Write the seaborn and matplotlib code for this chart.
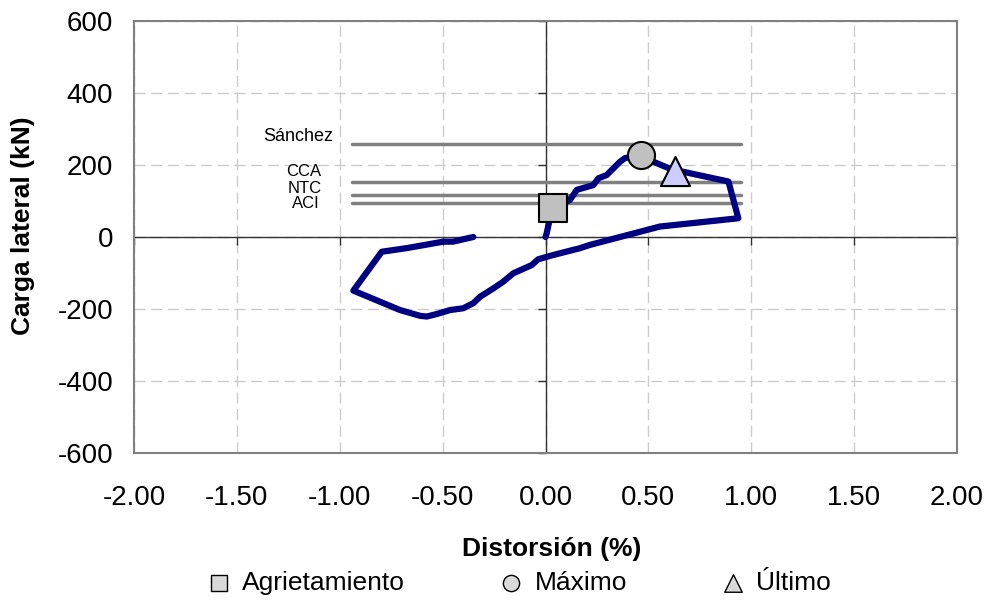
import numpy as np
import pandas as pd
import matplotlib
matplotlib.use('Agg')
import matplotlib.pyplot as plt
import seaborn as sns
from matplotlib.markers import TICKDOWN, TICKLEFT

# hysteresis curve
distorsion = [0.0, 0.006, 0.014, 0.036, 0.119, 0.152, 0.232, 0.257, 0.297, 0.362, 0.386,
              0.463, 0.524, 0.628, 0.67, 0.889, 0.937, 0.556, 0.216, 0.168, 0.038, -0.036,
              -0.067, -0.157, -0.205, -0.254, -0.318, -0.351, -0.4, -0.464, -0.529, -0.577,
              -0.61, -0.707, -0.934, -0.796, -0.675, -0.497, -0.45, -0.351]
carga = [0, 11, 33, 80, 103, 131, 144, 163, 172, 209, 219,
         227, 209, 184, 181, 154, 52, 29, -22, -31, -50, -62,
         -78, -101, -124, -143, -166, -184, -198, -203, -214, -221,
         -219, -203, -149, -41, -31, -13, -13, 0]

# characteristic points
puntos = ['Agrietamiento', 'Máximo', 'Último']
punto_x = [0.036, 0.463, 0.628]
punto_y = [80, 227, 184]

# code predictions (horizontal lines)
modelos = ['Sánchez', 'CCA', 'NTC', 'ACI']
modelo_v = [258, 152, 117, 95]
linea_x = [-0.94, 0.95]

xticks = [-2.0, -1.5, -1.0, -0.5, 0.0, 0.5, 1.0, 1.5, 2.0]
yticks = [-600, -400, -200, 0, 200, 400, 600]

sns.set_theme(style='white')
plt.rcParams['font.family'] = ['Liberation Sans', 'DejaVu Sans']
plt.rcParams['text.color'] = 'black'
plt.rcParams['axes.labelcolor'] = 'black'

fig = plt.figure(figsize=(9.89, 6.03), dpi=100)
ax = fig.add_axes([0.1355, 0.2488, 0.8322, 0.7164])

ax.set_xlim(-2, 2)
ax.set_ylim(-600, 600)
ax.set_xticks(xticks)
ax.set_xticklabels([f'{v:.2f}' for v in xticks])
ax.set_yticks(yticks)
ax.set_yticklabels([str(v) for v in yticks])
ax.tick_params(axis='x', length=0, pad=23, labelsize=20, colors='black')
ax.tick_params(axis='y', length=0, pad=15, labelsize=20, colors='black')
ax.grid(True, color='#cccccc', lw=1, ls=(0, (8, 4)))
for s in ax.spines.values():
    s.set_color('#808080')
    s.set_linewidth(1.5)

# axes through zero with small tick marks
ax.axhline(0, color='#333333', lw=1, zorder=2)
ax.axvline(0, color='#333333', lw=1, zorder=2)
ax.plot(xticks, [0] * len(xticks), ls='none', marker=TICKDOWN, ms=6, mew=1, color='#333333', clip_on=False)
ax.plot([0] * len(yticks), yticks, ls='none', marker=TICKLEFT, ms=6, mew=1, color='#333333', clip_on=False)

# horizontal predictions
lbl_pos = [(-1.034, 280, 13), (-1.088, 183, 12), (-1.088, 136, 12), (-1.096, 93, 12)]
for m, v, (tx, ty, fs) in zip(modelos, modelo_v, lbl_pos):
    ax.plot(linea_x, [v, v], color='#808080', lw=2.5, solid_capstyle='round', zorder=3)
    ax.text(tx, ty, m, ha='right', va='center', fontsize=fs)

curva = pd.DataFrame({'x': distorsion, 'y': carga})
sns.lineplot(data=curva, x='x', y='y', sort=False, estimator=None, color='#000080',
             lw=4.5, ax=ax, zorder=4, solid_joinstyle='round', solid_capstyle='round')

estilos = [('s', '#c0c0c0', 380), ('o', '#c0c0c0', 380), ('^', '#ccccff', 440)]
for nombre, px, py, (mk, col, sz) in zip(puntos, punto_x, punto_y, estilos):
    ax.scatter([px], [py], marker=mk, s=sz, facecolor=col, edgecolor='black',
               linewidth=1.5, zorder=5, label=nombre)

ax.set_xlabel('Distorsión (%)', fontsize=19, fontweight='bold')
ax.set_ylabel('Carga lateral (kN)', fontsize=19, fontweight='bold')
ax.xaxis.set_label_coords(0.507, -0.194)
ax.yaxis.set_label_coords(-0.12, 0.525)

leg = fig.legend(*ax.get_legend_handles_labels(), loc='center', bbox_to_anchor=(0.524, 0.033),
                 ncol=3, frameon=False, fontsize=19, markerscale=0.6, columnspacing=3.5,
                 handlelength=1.0, handletextpad=0.4, borderaxespad=0, borderpad=0)
for h in leg.legend_handles:
    h.set_linewidth(1)
    h.set_facecolor('#d9d9d9')

fig.savefig('out.png', dpi=100)
